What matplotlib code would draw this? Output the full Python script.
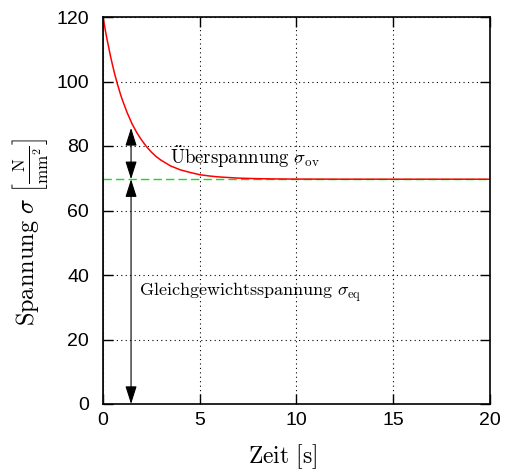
import matplotlib
matplotlib.use("Agg")
import matplotlib.pyplot as plt

plt.rcParams['mathtext.fontset'] = 'cm'

# data
t_vals = [0, 0, 0.1, 0.2, 0.3, 0.4, 0.5, 0.6, 0.75, 0.9, 1.0, 1.25, 1.5, 1.75, 2.0, 2.25,
          2.5, 2.75, 3.0, 3.5, 4.0, 4.5, 5.0, 5.5, 6.0, 7.0, 8.0, 9.0, 10.0, 12.0, 15.0, 20.0]
sigma_vals = [0, 120, 116.6, 113.3, 110.4, 107.5, 104.9, 102.4, 99.1, 96.1, 94.3, 90.3, 86.9,
              84.1, 81.8, 79.8, 78.1, 76.7, 75.6, 73.8, 72.6, 71.8, 71.1, 70.7, 70.4, 70.04,
              69.87, 69.78, 69.74, 69.71, 69.7, 69.7]
sigma_eq = 69.7
sigma_top = 85.6
arrow_t = 1.45

xticks = [0, 5, 10, 15, 20]
yticks = [0, 20, 40, 60, 80, 100, 120]

fig = plt.figure(figsize=(5.10, 4.72), dpi=100)
ax = fig.add_axes([103/510, (472-404)/472, 387/510, 387/472])

ax.plot([0, 20], [sigma_eq, sigma_eq], color='#11e011', lw=1.0, ls=(0, (6, 3)), zorder=2)
ax.plot(t_vals, sigma_vals, color='red', lw=1.1, zorder=2.4)

arrowprops = dict(arrowstyle='<|-|>,head_length=1.1,head_width=0.35', color='black', lw=0.8,
                  shrinkA=0, shrinkB=0)
for y0, y1 in [(sigma_eq, sigma_top), (0, sigma_eq)]:
    ax.annotate('', xy=(arrow_t, y1), xytext=(arrow_t, y0), arrowprops=arrowprops, zorder=4)

ax.text(3.45, 76.6, r'$\mathrm{\ddot{U}berspannung}\ \sigma_{\mathrm{ov}}$', fontsize=13.5,
        ha='left', va='center')
ax.text(1.86, 34.7, r'$\mathrm{Gleichgewichtsspannung}\ \sigma_{\mathrm{eq}}$', fontsize=13,
        ha='left', va='center')

ax.set_xlim(0, 20)
ax.set_ylim(0, 120)
ax.set_xticks(xticks)
ax.set_yticks(yticks)
ax.set_xticklabels([str(v) for v in xticks], fontfamily='Liberation Sans', fontsize=14)
ax.set_yticklabels([str(v) for v in yticks], fontfamily='Liberation Sans', fontsize=14)
ax.tick_params(direction='in', top=True, right=True, length=7, width=1)
ax.tick_params(axis='x', pad=6)
ax.tick_params(axis='y', pad=10)
ax.grid(True, color='black', ls=(0, (1, 3)), lw=0.8)
for s in ax.spines.values():
    s.set_linewidth(1.2)
    s.set_zorder(2.5)

ax.set_xlabel(r'$\mathrm{Zeit\ [s]}$', fontsize=17)
ax.xaxis.set_label_coords(0.463, -0.100)
ax.set_ylabel(r'$\mathrm{Spannung}\ \sigma\ \left[\frac{\mathrm{N}}{\mathrm{mm}^2}\right]$',
              fontsize=17.5)
ax.yaxis.set_label_coords(-0.137, 0.444)

fig.savefig('out.png', dpi=100)
